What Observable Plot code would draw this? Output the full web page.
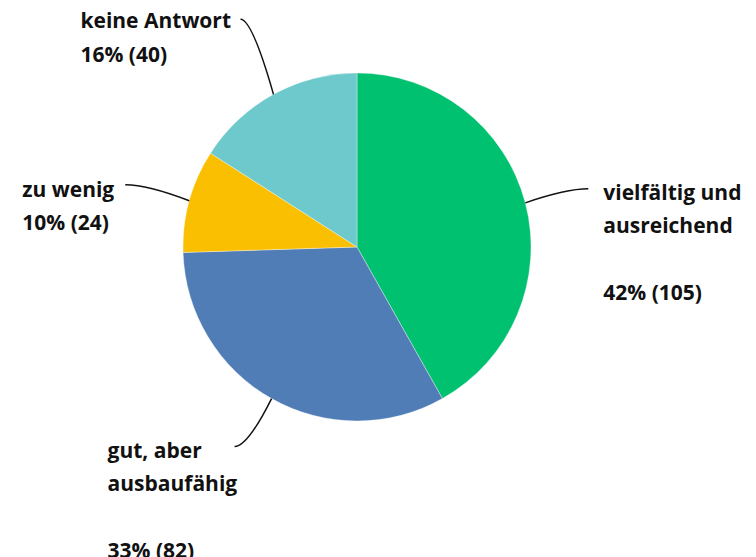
<!DOCTYPE html>
<html>
<head>
<meta charset="utf-8">
<script src="https://cdn.jsdelivr.net/npm/d3@7"></script>
<script src="https://cdn.jsdelivr.net/npm/@observablehq/plot@0.6"></script>
<style>
  html, body { margin: 0; padding: 0; background: #fff; }
  #chart { width: 756px; height: 557px; overflow: hidden; }
</style>
</head>
<body>
<div id="chart"></div>
<script>
// Data
const categories = ["vielfältig und ausreichend", "gut, aber ausbaufähig", "zu wenig", "keine Antwort"];
const counts = [105, 82, 24, 40];
const percents = [42, 33, 10, 16];
const labelLines = [
  ["vielfältig und", "ausreichend", "", "42% (105)"],
  ["gut, aber", "ausbaufähig", "", "33% (82)"],
  ["zu wenig", "10% (24)"],
  ["keine Antwort", "16% (40)"]
];
const colors = ["#00c16f", "#507db6", "#f9bf00", "#6dc9cc"];

// Layout (pixels, not data)
const W = 756, H = 557, R = 174, CX = 357, CY = 247;
const LINE_H = 33.5;
// leader end offsets relative to leader start; text left/baseline relative to leader end
const leaders = [
  {dx: 63, dy: -14, tx: 15, ty: 11},
  {dx: -37, dy: 48, tx: -127, ty: 11},
  {dx: -64, dy: -16, tx: -103, ty: 12},
  {dx: -33, dy: -75, tx: -160, ty: 9}
];

const data = categories.map((c, i) => ({category: c, count: counts[i], pct: percents[i], lines: labelLines[i], color: colors[i], i}));
const pie = d3.pie().value(d => d.count).sort(null)(data);

// unit-coordinate domains so that x(0)=CX, y(0)=CY, 1 unit = R px
const xDomain = [-CX / R, (W - CX) / R];
const yDomain = [-(H - CY) / R, CY / R];

const pieMark = (index, scales) => {
  const g = d3.create("svg:g");
  const cx = scales.x(0), cy = scales.y(0);
  const r = scales.x(1) - scales.x(0);
  const arc = d3.arc().innerRadius(0).outerRadius(r);
  g.selectAll("path.slice").data(pie).join("path")
    .attr("class", "slice")
    .attr("transform", `translate(${cx},${cy})`)
    .attr("d", arc)
    .attr("fill", d => d.data.color)
    .attr("stroke", "#ffffff")
    .attr("stroke-width", 0.6)
    .attr("stroke-opacity", 0.6);
  pie.forEach((p, i) => {
    const a = (p.startAngle + p.endAngle) / 2;
    const sx = cx + r * Math.sin(a), sy = cy - r * Math.cos(a);
    const L = leaders[i];
    const ex = sx + L.dx, ey = sy + L.dy;
    const path = d3.path();
    path.moveTo(sx, sy);
    path.quadraticCurveTo(ex + (sx - ex) * 0.35, ey, ex, ey);
    g.append("path").attr("d", path.toString()).attr("fill", "none")
      .attr("stroke", "#111").attr("stroke-width", 1.5);
    p.data.lines.forEach((ln, k) => {
      if (!ln) return;
      g.append("text")
        .attr("x", ex + L.tx).attr("y", ey + L.ty + k * LINE_H)
        .attr("text-anchor", "start")
        .attr("font-family", "'Open Sans', sans-serif")
        .attr("font-weight", 700)
        .attr("font-size", 21)
        .attr("fill", "#111")
        .text(ln);
    });
  });
  return g.node();
};

const chart = Plot.plot({
  width: W,
  height: H,
  margin: 0,
  x: {domain: xDomain, axis: null},
  y: {domain: yDomain, axis: null},
  marks: [pieMark]
});
document.getElementById("chart").appendChild(chart);
</script>
</body>
</html>
